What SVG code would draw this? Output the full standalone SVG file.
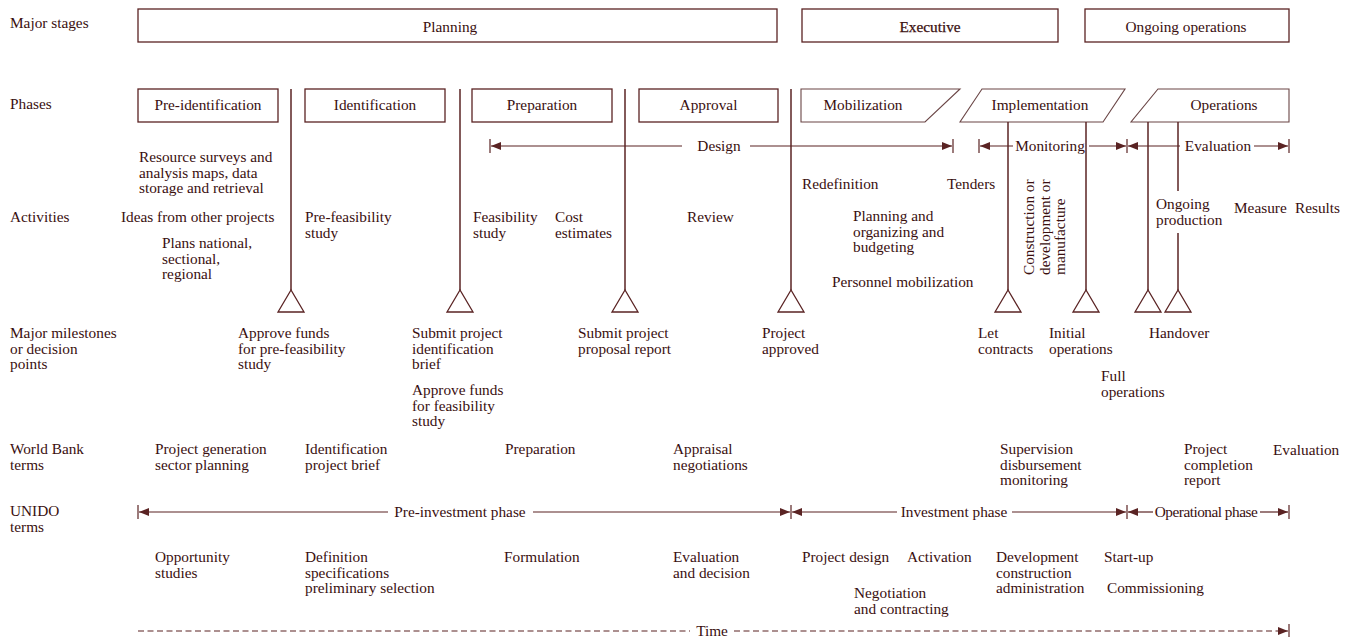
<svg xmlns="http://www.w3.org/2000/svg" width="1353" height="637" viewBox="0 0 1353 637">
  <style>
    text { font-family: "Liberation Serif", "Times New Roman", serif; font-size: 15.3px; fill: #3a0f0f; }
    .mid { text-anchor: middle; }
    .box { fill: #ffffff; stroke: #5a2323; stroke-width: 1.3; }
    .pgram { fill: #ffffff; stroke: #6a4545; stroke-width: 1.1; }
    .vline { stroke: #5a2323; stroke-width: 1.5; fill: none; }
    .tri { fill: #ffffff; stroke: #5a2323; stroke-width: 1.3; }
    .span { stroke: #5a2323; stroke-width: 1.2; fill: none; marker-end: url(#head); }
    .tick { stroke: #5a2323; stroke-width: 1.2; }
    .dash { stroke: #5a2323; stroke-width: 1.2; stroke-dasharray: 6 3.5; fill: none; }
  </style>
  <defs>
    <marker id="head" viewBox="0 0 10 8" refX="10" refY="4" markerWidth="10" markerHeight="8" markerUnits="userSpaceOnUse" orient="auto">
      <path d="M0,0 L10,4 L0,8 z" fill="#5a2323"/>
    </marker>
  </defs>
  <rect width="1353" height="637" fill="#ffffff"/>

  <!-- row labels -->
  <g id="row-labels">
    <text x="10" y="28">Major stages</text>
    <text x="10" y="109">Phases</text>
    <text x="10" y="222">Activities</text>
    <text x="10" y="338">Major milestones</text>
    <text x="10" y="353.5">or decision</text>
    <text x="10" y="369">points</text>
    <text x="10" y="454">World Bank</text>
    <text x="10" y="469.5">terms</text>
    <text x="10" y="516">UNIDO</text>
    <text x="10" y="531.5">terms</text>
  </g>

  <!-- major stages -->
  <g id="stage-planning">
    <rect class="box" x="138" y="9" width="639" height="33"/>
    <text class="mid" x="450" y="32">Planning</text>
  </g>
  <g id="stage-executive">
    <rect class="box" x="802" y="9" width="256" height="33"/>
    <text class="mid" x="930" y="32" stroke="#3a0f0f" stroke-width="0.25">Executive</text>
  </g>
  <g id="stage-ongoing">
    <rect class="box" x="1085" y="9" width="204" height="33"/>
    <text class="mid" x="1186" y="32">Ongoing operations</text>
  </g>

  <!-- phases -->
  <g id="phase-preidentification">
    <rect class="box" x="138" y="89" width="140" height="33"/>
    <text class="mid" x="208" y="110">Pre-identification</text>
  </g>
  <g id="phase-identification">
    <rect class="box" x="305" y="89" width="140" height="33"/>
    <text class="mid" x="375" y="110">Identification</text>
  </g>
  <g id="phase-preparation">
    <rect class="box" x="472" y="89" width="140" height="33"/>
    <text class="mid" x="542" y="110">Preparation</text>
  </g>
  <g id="phase-approval">
    <rect class="box" x="639" y="89" width="139" height="33"/>
    <text class="mid" x="708.5" y="110">Approval</text>
  </g>
  <g id="phase-mobilization">
    <polygon class="pgram" points="801,89 960,89 925,122 801,122"/>
    <text class="mid" x="863" y="110">Mobilization</text>
  </g>
  <g id="phase-implementation">
    <polygon class="pgram" points="982,89 1125,89 1103,122 960,122"/>
    <text class="mid" x="1040" y="110">Implementation</text>
  </g>
  <g id="phase-operations">
    <polygon class="pgram" points="1158,89 1289,89 1289,122 1131,122"/>
    <text class="mid" x="1224" y="110">Operations</text>
  </g>

  <!-- connectors: milestone stems, triangles, span arrows -->
  <g id="connectors">
    <line class="vline" x1="291" y1="89" x2="291" y2="290"/>
    <line class="vline" x1="460" y1="89" x2="460" y2="290"/>
    <line class="vline" x1="625" y1="89" x2="625" y2="290"/>
    <line class="vline" x1="791" y1="89" x2="791" y2="290"/>
    <line class="vline" x1="1008" y1="122" x2="1008" y2="290"/>
    <line class="vline" x1="1086" y1="122" x2="1086" y2="290"/>
    <line class="vline" x1="1148" y1="122" x2="1148" y2="290"/>
    <line class="vline" x1="1178" y1="122" x2="1178" y2="191"/>
    <line class="vline" x1="1178" y1="233" x2="1178" y2="290"/>

    <polygon class="tri" points="291,290 278,312 304,312"/>
    <polygon class="tri" points="460,290 447,312 473,312"/>
    <polygon class="tri" points="625,290 612,312 638,312"/>
    <polygon class="tri" points="791,290 778,312 804,312"/>
    <polygon class="tri" points="1008,290 995,312 1021,312"/>
    <polygon class="tri" points="1086,290 1073,312 1099,312"/>
    <polygon class="tri" points="1148,290 1135,312 1161,312"/>
    <polygon class="tri" points="1178,290 1165,312 1191,312"/>

    <!-- Design / Monitoring / Evaluation spans -->
    <line class="span" x1="682" y1="146" x2="491" y2="146"/>
    <line class="span" x1="750" y1="146" x2="952" y2="146"/>
    <line class="tick" x1="490" y1="139" x2="490" y2="153"/>
    <line class="tick" x1="953" y1="139" x2="953" y2="153"/>
    <line class="span" x1="1013" y1="146" x2="980" y2="146"/>
    <line class="span" x1="1089" y1="146" x2="1126" y2="146"/>
    <line class="tick" x1="979" y1="139" x2="979" y2="153"/>
    <line class="tick" x1="1127" y1="139" x2="1127" y2="153"/>
    <line class="span" x1="1180" y1="146" x2="1128" y2="146"/>
    <line class="span" x1="1254" y1="146" x2="1288" y2="146"/>
    <line class="tick" x1="1289" y1="139" x2="1289" y2="153"/>

    <!-- UNIDO phase spans -->
    <line class="span" x1="388" y1="512" x2="139" y2="512"/>
    <line class="span" x1="533" y1="512" x2="790" y2="512"/>
    <line class="tick" x1="138" y1="505" x2="138" y2="519"/>
    <line class="tick" x1="791" y1="505" x2="791" y2="519"/>
    <line class="span" x1="897" y1="512" x2="792" y2="512"/>
    <line class="span" x1="1012" y1="512" x2="1126" y2="512"/>
    <line class="tick" x1="1127" y1="505" x2="1127" y2="519"/>
    <line class="span" x1="1153" y1="512" x2="1128" y2="512"/>
    <line class="span" x1="1260" y1="512" x2="1288" y2="512"/>
    <line class="tick" x1="1289" y1="505" x2="1289" y2="519"/>

    <!-- time axis -->
    <line class="dash" x1="138" y1="631" x2="690" y2="631"/>
    <line class="dash" x1="734" y1="631" x2="1288" y2="631" marker-end="url(#head)"/>
    <line class="tick" x1="1289" y1="624" x2="1289" y2="637"/>
  </g>

  <!-- span labels -->
  <g id="span-labels">
    <text class="mid" x="719" y="151">Design</text>
    <text class="mid" x="1050" y="151">Monitoring</text>
    <text class="mid" x="1218" y="151">Evaluation</text>
    <text class="mid" x="460" y="517">Pre-investment phase</text>
    <text class="mid" x="954" y="517">Investment phase</text>
    <text class="mid" x="1206" y="517" letter-spacing="-0.5">Operational phase</text>
    <text class="mid" x="712" y="636">Time</text>
  </g>

  <!-- activities -->
  <g id="activities">
    <text x="139" y="162">Resource surveys and</text>
    <text x="139" y="177.5">analysis maps, data</text>
    <text x="139" y="193">storage and retrieval</text>
    <text x="121" y="222">Ideas from other projects</text>
    <text x="162" y="248">Plans national,</text>
    <text x="162" y="263.5">sectional,</text>
    <text x="162" y="279">regional</text>
    <text x="305" y="222">Pre-feasibility</text>
    <text x="305" y="237.5">study</text>
    <text x="473" y="222">Feasibility</text>
    <text x="473" y="237.5">study</text>
    <text x="555" y="222">Cost</text>
    <text x="555" y="237.5">estimates</text>
    <text x="687" y="222">Review</text>
    <text x="802" y="189">Redefinition</text>
    <text x="947" y="189">Tenders</text>
    <text x="853" y="221">Planning and</text>
    <text x="853" y="236.5">organizing and</text>
    <text x="853" y="252">budgeting</text>
    <text x="832" y="287">Personnel mobilization</text>
    <g transform="translate(1034,275) rotate(-90)">
      <text x="0" y="0">Construction or</text>
      <text x="0" y="15.5">development or</text>
      <text x="0" y="31">manufacture</text>
    </g>
    <text x="1156" y="209">Ongoing</text>
    <text x="1156" y="224.5">production</text>
    <text x="1234" y="213">Measure</text>
    <text x="1295" y="213">Results</text>
  </g>

  <!-- milestones -->
  <g id="milestones">
    <text x="238" y="338">Approve funds</text>
    <text x="238" y="353.5">for pre-feasibility</text>
    <text x="238" y="369">study</text>
    <text x="412" y="338">Submit project</text>
    <text x="412" y="353.5">identification</text>
    <text x="412" y="369">brief</text>
    <text x="412" y="395">Approve funds</text>
    <text x="412" y="410.5">for feasibility</text>
    <text x="412" y="426">study</text>
    <text x="578" y="338">Submit project</text>
    <text x="578" y="353.5">proposal report</text>
    <text x="762" y="338">Project</text>
    <text x="762" y="353.5">approved</text>
    <text x="978" y="338">Let</text>
    <text x="978" y="353.5">contracts</text>
    <text x="1049" y="338">Initial</text>
    <text x="1049" y="353.5">operations</text>
    <text x="1149" y="338">Handover</text>
    <text x="1101" y="381">Full</text>
    <text x="1101" y="396.5">operations</text>
  </g>

  <!-- World Bank terms -->
  <g id="world-bank">
    <text x="155" y="454">Project generation</text>
    <text x="155" y="469.5">sector planning</text>
    <text x="305" y="454">Identification</text>
    <text x="305" y="469.5">project brief</text>
    <text x="505" y="454">Preparation</text>
    <text x="673" y="454">Appraisal</text>
    <text x="673" y="469.5">negotiations</text>
    <text x="1000" y="454">Supervision</text>
    <text x="1000" y="469.5">disbursement</text>
    <text x="1000" y="485">monitoring</text>
    <text x="1184" y="454">Project</text>
    <text x="1184" y="469.5">completion</text>
    <text x="1184" y="485">report</text>
    <text x="1273" y="455">Evaluation</text>
  </g>

  <!-- UNIDO terms -->
  <g id="unido">
    <text x="155" y="562">Opportunity</text>
    <text x="155" y="577.5">studies</text>
    <text x="305" y="562">Definition</text>
    <text x="305" y="577.5">specifications</text>
    <text x="305" y="593">preliminary selection</text>
    <text x="504" y="562">Formulation</text>
    <text x="673" y="562">Evaluation</text>
    <text x="673" y="577.5">and decision</text>
    <text x="802" y="562">Project design</text>
    <text x="907" y="562">Activation</text>
    <text x="854" y="598">Negotiation</text>
    <text x="854" y="613.5">and contracting</text>
    <text x="996" y="562">Development</text>
    <text x="996" y="577.5">construction</text>
    <text x="996" y="593">administration</text>
    <text x="1104" y="562">Start-up</text>
    <text x="1107" y="593">Commissioning</text>
  </g>
</svg>
